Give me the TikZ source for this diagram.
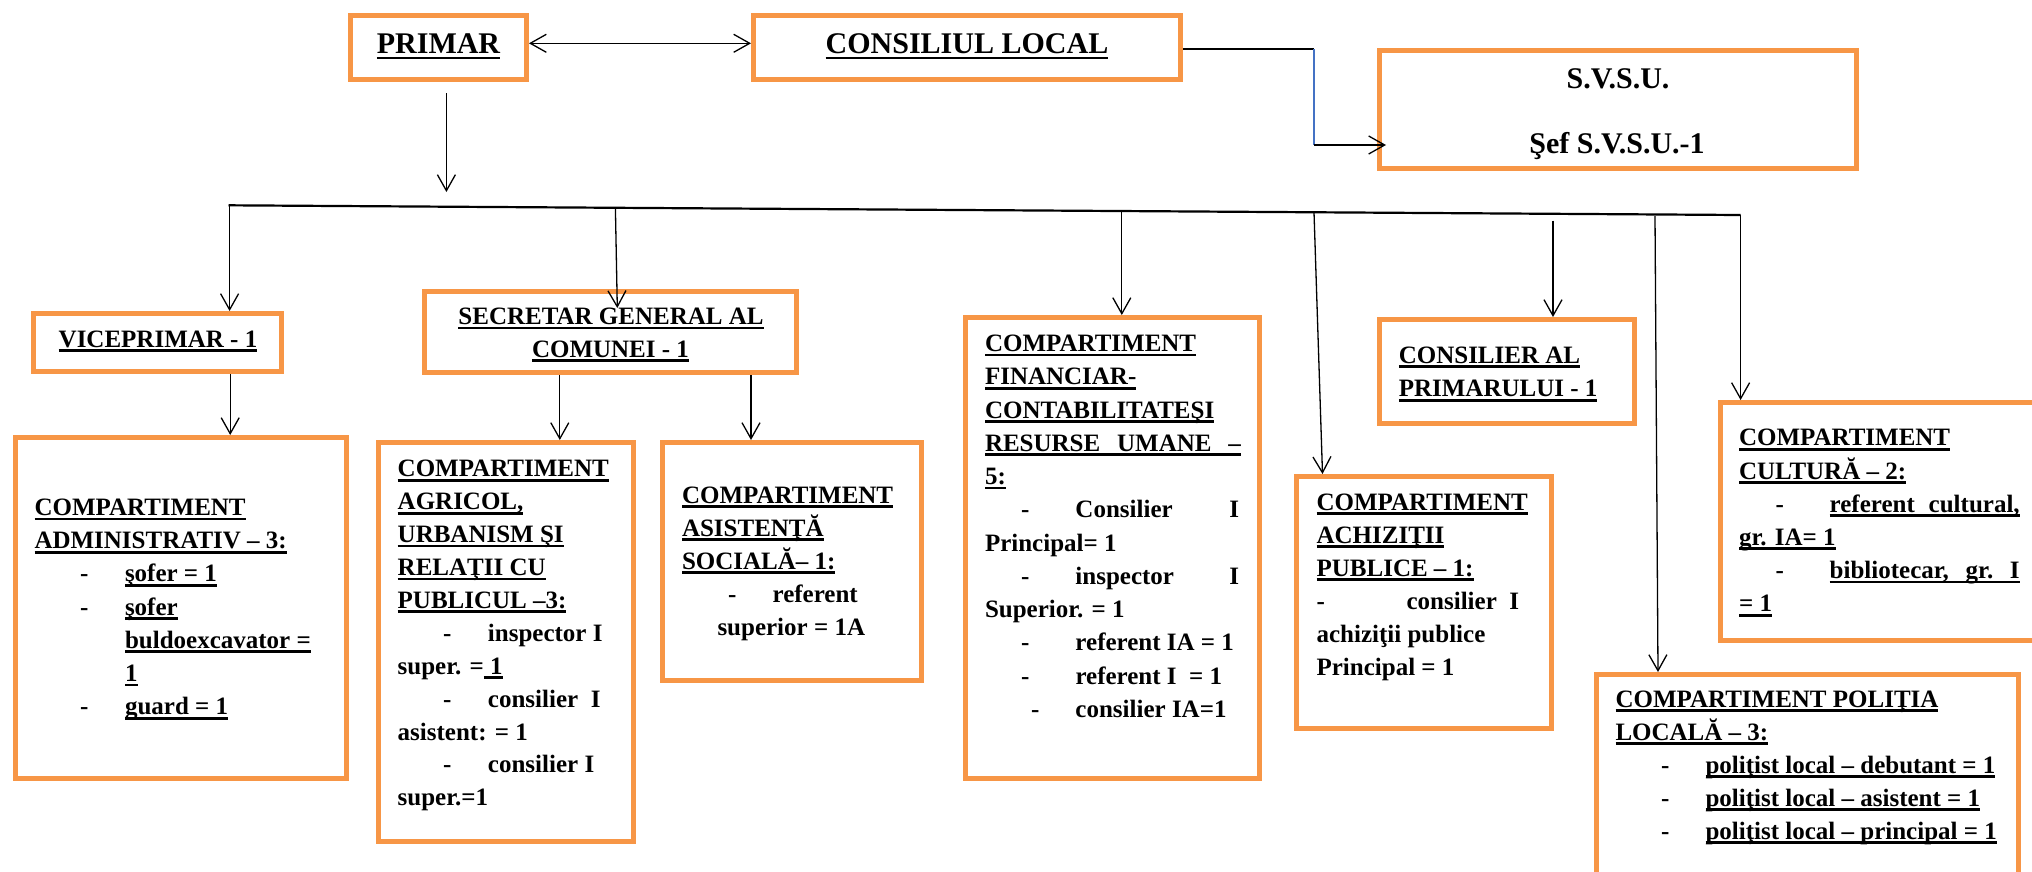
\documentclass[tikz,border=0pt]{standalone}
\usepackage{fontspec}
\setmainfont{Liberation Serif}
\usetikzlibrary{arrows.meta}
\definecolor{boxorange}{HTML}{F79646}
\definecolor{lineblue}{HTML}{4472C4}
\newcommand\myU[1]{\setbox0\hbox{#1}\rlap{\vrule width\wd0 height-2pt depth4.8pt}\box0}
\newcommand\myUB[1]{\setbox0\hbox{#1}\rlap{\vrule width\wd0 height-3.5pt depth6.3pt}\box0}
\newcommand\myLines[2]{\vtop{\baselineskip=#1pt\lineskiplimit=-1000pt\lineskip=0pt #2}}
\newcommand\myL[1]{\hbox{#1}}
\newcommand\myItem[3]{\hbox{\kern#1pt\makebox[#2pt][l]{-}#3}}
\tikzset{
  obox/.style={draw=boxorange, line width=5pt, rectangle, inner sep=0pt},
  txt/.style={inner sep=0pt, outer sep=0pt, anchor=base west, font=\fontsize{25}{33}\selectfont\bfseries},
  ctxt/.style={inner sep=0pt, outer sep=0pt, anchor=base, font=\fontsize{25}{33}\selectfont\bfseries},
  bigtxt/.style={inner sep=0pt, outer sep=0pt, anchor=base, font=\fontsize{30}{36}\selectfont\bfseries},
  arr/.style={draw=black, line width=1.3pt, -{Straight Barb[length=16pt,width=18pt]}},
  dblarr/.style={draw=black, line width=1.3pt, {Straight Barb[length=16pt,width=18pt]}-{Straight Barb[length=16pt,width=18pt]}},
  plainline/.style={draw=black, line width=1.3pt},
  busline/.style={draw=black, line width=2.2pt},
  blueline/.style={draw=lineblue, line width=1.3pt}
}
\begin{document}
\begin{tikzpicture}[x=1pt,y=-1pt]
\useasboundingbox (0,0) rectangle (2032,871);
\fill[white] (0,0) rectangle (2032,871);
\clip (0,0) rectangle (2032,871);

% ---------- boxes ----------
\node[obox, minimum width=176pt, minimum height=64pt] (primar) at (438.5,47.5) {};
\node[obox, minimum width=427pt, minimum height=64pt] (consiliu) at (967,47.5) {};
\node[obox, minimum width=477pt, minimum height=118pt] (svsu) at (1618,109.5) {};
\node[obox, minimum width=248pt, minimum height=58pt] (vice) at (157.5,342.5) {};
\node[obox, minimum width=372pt, minimum height=81pt] (secr) at (610.5,332) {};
\node[obox, minimum width=331pt, minimum height=341pt] (adm) at (181,608) {};
\node[obox, minimum width=255pt, minimum height=399pt] (agr) at (506,642) {};
\node[obox, minimum width=259pt, minimum height=238pt] (asist) at (792,561.5) {};
\node[obox, minimum width=294pt, minimum height=461pt] (fin) at (1112.5,548) {};
\node[obox, minimum width=255pt, minimum height=252pt] (achiz) at (1424,602.5) {};
\node[obox, minimum width=255pt, minimum height=104pt] (consp) at (1507,371.5) {};
\node[obox, minimum width=327pt, minimum height=238pt] (cult) at (1884,521.5) {};
\node[obox, minimum width=422pt, minimum height=213pt] (pol) at (1807.5,781) {};

% ---------- texts ----------
\node[bigtxt] (primar-t) at (438.5,53) {\myUB{PRIMAR}};
\node[bigtxt] (consiliu-t) at (967,53) {\myUB{CONSILIUL LOCAL}};
\node[bigtxt] (svsu-t1) at (1618,88) {S.V.S.U.};
\node[bigtxt] (svsu-t2) at (1617,153) {Şef S.V.S.U.-1};
\node[ctxt] (vice-t) at (158,347) {\myU{VICEPRIMAR - 1}};
\node[ctxt] (secr-t1) at (611,324.5) {\myU{SECRETAR GENERAL AL}};
\node[ctxt] (secr-t2) at (610.5,357) {\myU{COMUNEI - 1}};

\node[txt] (adm-t) at (34.5,515.5) {\myLines{33.23}{%
\myL{\myU{COMPARTIMENT}}
\myL{\myU{ADMINISTRATIV – 3:}}
\myItem{45.5}{45}{\myU{şofer = 1}}
\myItem{45.5}{45}{\myU{şofer}}
\myL{\kern90.5pt\myU{buldoexcavator =}}
\myL{\kern90.5pt\myU{1}}
\myItem{45.5}{45}{\myU{guard = 1}}
}};

\node[txt] (agr-t) at (397.7,476.8) {\myLines{32.9}{%
\myL{\myU{COMPARTIMENT}}
\myL{\myU{AGRICOL,}}
\myL{\myU{URBANISM ŞI}}
\myL{\myU{RELAŢII CU}}
\myL{\myU{PUBLICUL –3:}}
\myItem{45.3}{45}{inspector I}
\myL{super. =\myU{\ 1}}
\myItem{45.3}{45}{consilier\ \ I}
\myL{asistent: = 1}
\myItem{45.3}{45}{consilier I}
\myL{super.=1}
}};

\node[txt] (asist-t) at (682,503) {\myLines{33}{%
\myL{\myU{COMPARTIMENT}}
\myL{\myU{ASISTENŢĂ}}
\myL{\myU{SOCIALĂ– 1:}}
\myItem{46}{44.6}{referent}
\myL{\kern35.5pt superior = 1A}
}};

\node[txt] (fin-t) at (985,351.6) {\myLines{33.24}{%
\myL{\myU{COMPARTIMENT}}
\myL{\myU{FINANCIAR-}}
\myL{\myU{CONTABILITATEŞI}}
\myL{\myU{\hbox to 256pt{RESURSE\hfill UMANE\hfill –}}}
\myL{\myU{5:}}
\myL{\hbox to 254pt{\kern36pt\makebox[54.5pt][l]{-}Consilier\hfill I}}
\myL{Principal= 1}
\myL{\hbox to 254pt{\kern36pt\makebox[54.5pt][l]{-}inspector\hfill I}}
\myL{Superior. = 1}
\myItem{36}{54.5}{referent IA = 1}
\myItem{36}{54.5}{referent I\ \ = 1}
\myItem{46}{44.5}{consilier IA=1}
}};

\node[txt] (consp-t) at (1398.8,363) {\myLines{33.8}{%
\myL{\myU{CONSILIER AL}}
\myL{\myU{PRIMARULUI - 1}}
}};

\node[txt] (achiz-t) at (1316.6,510) {\myLines{33.16}{%
\myL{\myU{COMPARTIMENT}}
\myL{\myU{ACHIZIŢII}}
\myL{\myU{PUBLICE – 1:}}
\myItem{0}{90}{consilier\ \ I}
\myL{achiziţii publice}
\myL{Principal = 1}
}};

\node[txt] (cult-t) at (1739,445.8) {\myLines{33.2}{%
\myL{\myU{COMPARTIMENT}}
\myL{\myU{CULTURĂ – 2:}}
\myItem{36.5}{54.2}{\myU{\hbox to 190pt{referent\hfill cultural,}}}
\myL{\myU{gr. IA= 1}}
\myItem{36.5}{54.2}{\myU{\hbox to 190pt{bibliotecar,\hfill gr.\hfill I}}}
\myL{\myU{= 1}}
}};

\node[txt] (pol-t) at (1615.5,707) {\myLines{33}{%
\myL{\myU{COMPARTIMENT POLIŢIA}}
\myL{\myU{LOCALĂ – 3:}}
\myItem{45.5}{44.5}{\myU{poliţist local – debutant = 1}}
\myItem{45.5}{44.5}{\myU{poliţist local – asistent = 1}}
\myItem{45.5}{44.5}{\myU{poliţist local – principal = 1}}
}};

% ---------- connectors ----------
\draw[dblarr] ([yshift=4.2pt]primar.east) -- ([yshift=4.2pt]consiliu.west);

\coordinate (c1) at (1314,49);
\coordinate (c2) at (1314,145);
\draw[plainline] ([yshift=-1.5pt]consiliu.east) -- (c1);
\draw[blueline] (c1) -- (c2);
\draw[arr] (c2) -- ([yshift=-35.5pt,xshift=9pt]svsu.west);

\coordinate (p1) at (446.4,93);
\coordinate (p2) at (446.4,192);
\draw[arr] (p1) -- (p2);

\coordinate (busL) at (228.5,205.3);
\coordinate (busR) at (1740.6,215);
\draw[busline] (busL) -- (busR);

\coordinate (d1) at (229.6,205.3);
\coordinate (d2) at (615.4,207.8);
\coordinate (d2e) at (617.3,308);
\coordinate (d3) at (1121.8,211);
\coordinate (d4) at (1314,212.3);
\coordinate (d5) at (1553,220.7);
\coordinate (d6) at (1655,216);
\coordinate (d7) at (1740.6,215);

\draw[arr] (d1) -- (d1 |- vice.north);
\draw[arr] (d2) -- (d2e);
\draw[arr] (d3) -- (d3 |- fin.north);
\draw[arr] (d4) -- (1322.5,0 |- achiz.north);
\draw[arr] (d5) -- (d5 |- consp.north);
\draw[arr] (d6) -- (1658,0 |- pol.north);
\draw[arr] (d7) -- (d7 |- cult.north);

\draw[arr] (230.2,0 |- vice.south) -- (230.2,0 |- adm.north);
\draw[arr] (559.8,0 |- secr.south) -- (559.8,0 |- agr.north);
\draw[arr] (751,0 |- secr.south) -- (751,0 |- asist.north);
\end{tikzpicture}
\end{document}
